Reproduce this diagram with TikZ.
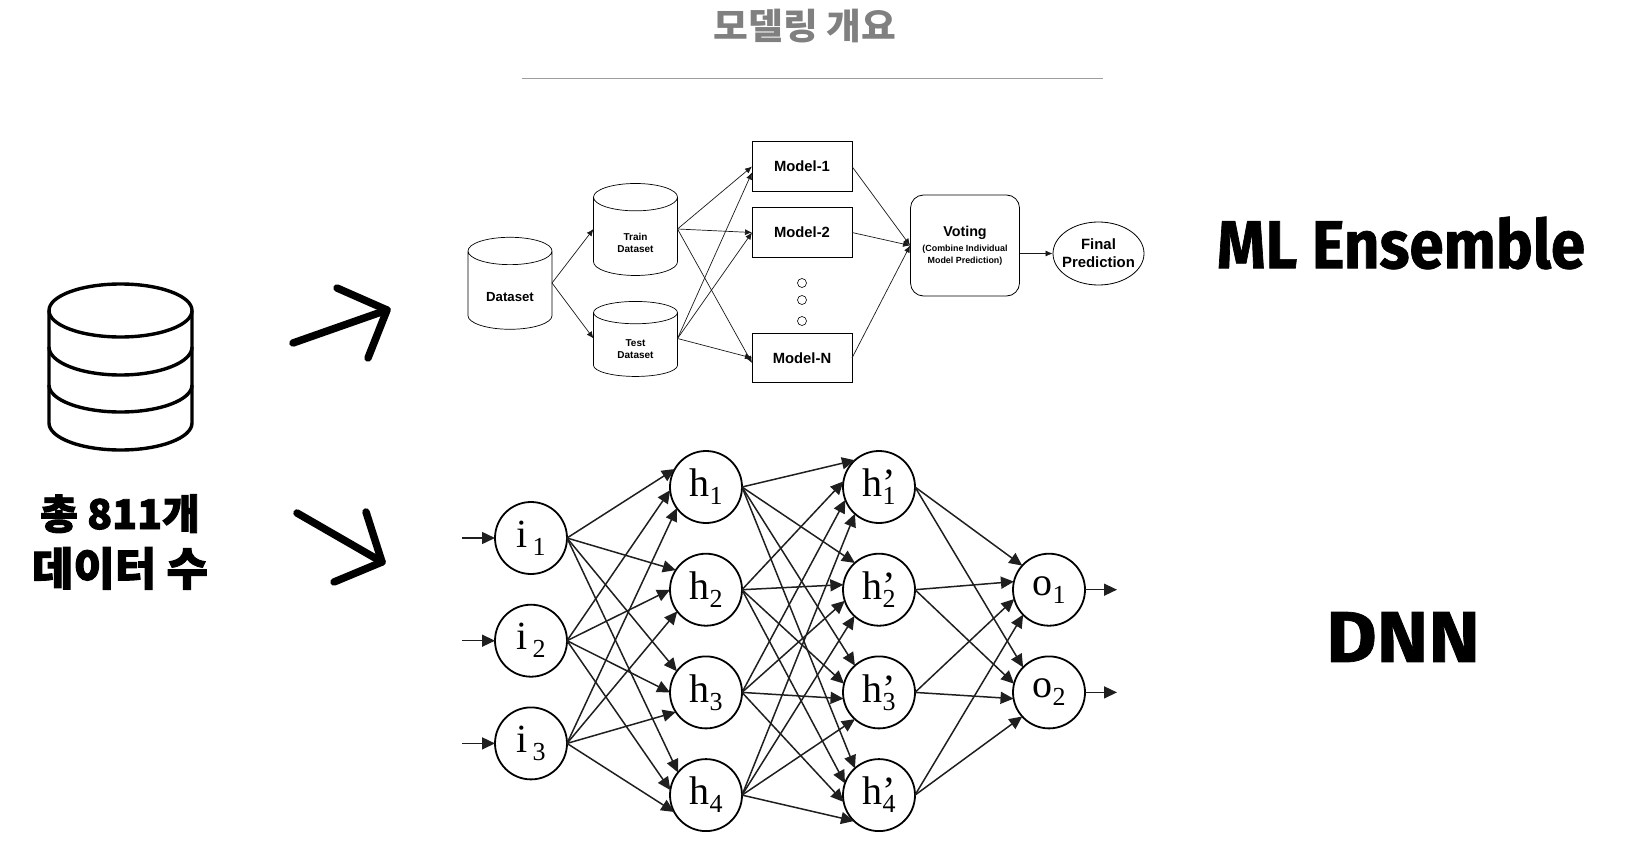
\documentclass[tikz,border=0pt]{standalone}
\usepackage{fontspec}
\usepackage{xcolor}
\usepackage{tikz}
\usetikzlibrary{arrows.meta, positioning, shapes.geometric}
\setmainfont{Liberation Sans}
\newfontfamily\serifpart{Liberation Serif}
\newfontfamily\headfont[FakeStretch=0.91, FakeBold=1]{Fira Sans}
\newfontfamily\dnnfont[FakeStretch=1.08, FakeBold=1]{Fira Sans}
\newfontfamily\korfont[FakeBold=2.2]{Noto Sans CJK KR}
\newfontfamily\titlefont[FakeStretch=1.05]{Noto Sans CJK KR}
\newcommand{\fsz}[1]{\fontsize{#1}{1.2\dimexpr #1pt\relax}\selectfont}
\newcommand{\sublab}[2]{#1\raisebox{-8pt}{\fsz{26}#2}}
\newcommand{\gaplab}[2]{#1\hspace{5pt}\raisebox{-8pt}{\fsz{26}#2}}
\newcommand{\primelab}[2]{h\rlap{’}\raisebox{-8pt}{\fsz{26}#2}}
\newcommand{\holder}{\phantom{\rule{36pt}{24pt}}}

\begin{document}
\begin{tikzpicture}[
  x=1pt, y=1pt,
  node distance=30.7pt and 101pt,
  box/.style={draw, line width=0.9pt, outer sep=0pt, minimum width=100pt, minimum height=49.5pt, inner sep=0pt, align=center, font=\fsz{14.8}\bfseries},
  store/.style={draw, line width=0.7pt, outer sep=0pt, shape=cylinder, shape border rotate=90, shape aspect=0.76, minimum width=84pt, inner sep=0pt},
  storetext/.style={align=center, font=\fsz{10}\bfseries},
  dot/.style={draw, line width=0.6pt, circle, minimum size=9pt, inner sep=0pt},
  neuron/.style={draw, line width=1.8pt, outer sep=0pt, circle, minimum size=72pt, inner sep=0pt, font=\serifpart\fsz{40}},
  arrow/.style={-{Latex[length=7pt, width=6pt]}, line width=0.7pt, black!90},
  nnarrow/.style={-{Triangle[length=13pt, width=12pt]}, line width=1.5pt, black!88},
  bigarrow/.style={line width=7.5pt, line cap=round, line join=round}
]
\useasboundingbox (0,0) rectangle (1627,-845);

% Title
\node[text=gray, font=\titlefont\bfseries\fsz{36}] (title) at (805,-26) {모델링 개요};
\coordinate (ruleL) at (522,-78.5);
\coordinate (ruleR) at (1103,-78.5);
\draw[line width=1.3pt, black!38] (ruleL) -- (ruleR);

% Data icon
\draw[line width=3.4pt] (120.5,-310.5) ellipse [x radius=71.5, y radius=26.5];
\draw[line width=3.4pt] (49,-310.5) -- (49,-423) arc[start angle=180, end angle=360, x radius=71.5, y radius=27] -- (192,-310.5);
\draw[line width=3.4pt] (49,-347) arc[start angle=180, end angle=360, x radius=71.5, y radius=28];
\draw[line width=3.4pt] (49,-385) arc[start angle=180, end angle=360, x radius=71.5, y radius=27];
\node[align=center, font=\korfont\bfseries\fsz{41}] (count) at (120,-542) {총 811개\\[7pt]{\fsz{45}데이터 수}};

% Big arrows
\coordinate (upS) at (293,-343);
\coordinate (upT) at (387,-310);
\coordinate (upA) at (337,-288);
\coordinate (upB) at (368,-358);
\coordinate (dnS) at (297,-513);
\coordinate (dnT) at (382,-562);
\coordinate (dnA) at (366,-512);
\coordinate (dnB) at (334,-582);
\draw[bigarrow] (upS) -- (upT);
\draw[bigarrow] (upA) -- (upT) -- (upB);
\draw[bigarrow] (dnS) -- (dnT);
\draw[bigarrow] (dnA) -- (dnT) -- (dnB);

% ML nodes
\node[store, minimum height=92pt] (data) at (510,-290.3) {\holder};
\node[store, minimum height=92pt] (train) at (635.5,-236.5) {\holder};
\node[store, minimum height=75pt, shape aspect=0.62] (test) at (635.5,-344.7) {\holder};
\node[font=\fsz{13.2}\bfseries] (dataT) at ([yshift=-7pt]data.center) {Dataset};
\node[storetext] (trainT) at ([yshift=-6pt]train.center) {Train\\Dataset};
\node[storetext] (testT) at ([yshift=-4.3pt]test.center) {Test\\Dataset};
\coordinate (dataE) at ([yshift=7.3pt]data.east);
\coordinate (trainW) at ([yshift=7.5pt]train.west);
\coordinate (trainE) at ([yshift=7.5pt]train.east);
\coordinate (testW) at ([yshift=6.2pt]test.west);
\coordinate (testE) at ([yshift=6.2pt]test.east);
\node[box] (m1) at (802,-166.5) {Model-1};
\node[box, below=16.5pt of m1] (m2) {Model-2};
\node[box] (mN) at (802,-358) {Model-N};
\node[dot] (d1) at (802,-283) {};
\node[dot] (d2) at (802,-300) {};
\node[dot] (d3) at (802,-321) {};
\node[draw, line width=0.8pt, rounded corners=13pt, minimum width=109pt, minimum height=101pt, inner sep=0pt, align=center] (vote) at (965,-245.5)
  {{\fsz{14.3}\bfseries Voting}\\[2.5pt]{\fsz{8.9}\bfseries (Combine Individual}\\[0pt]{\fsz{8.9}\bfseries Model Prediction)}};
\node[draw, line width=0.8pt, ellipse, minimum width=91pt, minimum height=63pt, inner xsep=-8pt, inner ysep=0pt, align=center, font=\fsz{14.9}\bfseries] (final) at (1098.5,-253.5) {Final\\Prediction};
\node[font=\headfont\bfseries\fsz{68}] (ens) at (1401,-243) {ML Ensemble};

% ML pointers
\draw[arrow] (dataE) -- (trainW);
\draw[arrow] (dataE) -- (testW);
\draw[arrow] (trainE) -- (m1.west);
\draw[arrow] (trainE) -- (m2.west);
\draw[arrow] (trainE) -- ([yshift=-5pt]mN.west);
\draw[arrow] (testE) -- ([yshift=-6pt]m1.west);
\draw[arrow] (testE) -- (m2.west);
\draw[arrow] (testE) -- (mN.west);
\draw[arrow] (m1.east) -- (vote.west);
\draw[arrow] (m2.east) -- (vote.west);
\draw[arrow] (mN.east) -- (vote.west);
\draw[arrow] (vote.east |- final) -- (final.west);

% DNN nodes
\node[neuron] (i1) at (531,-538) {\gaplab{i}{1}};
\node[neuron, below=of i1] (i2) {\gaplab{i}{2}};
\node[neuron, below=of i2] (i3) {\gaplab{i}{3}};
\node[neuron] (h1) at (706,-487) {\sublab{h}{1}};
\node[neuron, below=of h1] (h2) {\sublab{h}{2}};
\node[neuron, below=of h2] (h3) {\sublab{h}{3}};
\node[neuron, below=of h3] (h4) {\sublab{h}{4}};
\node[neuron, right=of h1] (p1) {\primelab{h}{1}};
\node[neuron, right=of h2] (p2) {\primelab{h}{2}};
\node[neuron, right=of h3] (p3) {\primelab{h}{3}};
\node[neuron, right=of h4] (p4) {\primelab{h}{4}};
\node[neuron, right=98pt of p2] (o1) {\sublab{o}{1}};
\node[neuron, right=98pt of p3] (o2) {\sublab{o}{2}};
\node[font=\dnnfont\bfseries\fsz{72}] (dnn) at (1403,-637) {DNN};
\coordinate[left=33pt of i1] (in1);
\coordinate[left=33pt of i2] (in2);
\coordinate[left=33pt of i3] (in3);
\coordinate[right=32pt of o1] (out1);
\coordinate[right=32pt of o2] (out2);

% DNN pointers
\draw[nnarrow] (in1) -- (i1);
\draw[nnarrow] (in2) -- (i2);
\draw[nnarrow] (in3) -- (i3);
\draw[nnarrow] (i1.east) -- (h1.150);
\draw[nnarrow] (i1.east) -- (h2.147);
\draw[nnarrow] (i1.east) -- (h3.144);
\draw[nnarrow] (i1.east) -- (h4.141);
\draw[nnarrow] (i2.east) -- (h1.185);
\draw[nnarrow] (i2.east) -- (h2.180);
\draw[nnarrow] (i2.east) -- (h3.180);
\draw[nnarrow] (i2.east) -- (h4.172);
\draw[nnarrow] (i3.east) -- (h1.216);
\draw[nnarrow] (i3.east) -- (h2.217);
\draw[nnarrow] (i3.east) -- (h3.213);
\draw[nnarrow] (i3.east) -- (h4.208);
\draw[nnarrow] (h1.east) -- (p1.132);
\draw[nnarrow] (h1.east) -- (p2.132);
\draw[nnarrow] (h1.east) -- (p3.132);
\draw[nnarrow] (h1.east) -- (p4.132);
\draw[nnarrow] (h2.east) -- (p1.171);
\draw[nnarrow] (h2.east) -- (p2.172);
\draw[nnarrow] (h2.east) -- (p3.166);
\draw[nnarrow] (h2.east) -- (p4.161);
\draw[nnarrow] (h3.east) -- (p1.201);
\draw[nnarrow] (h3.east) -- (p2.198);
\draw[nnarrow] (h3.east) -- (p3.190);
\draw[nnarrow] (h3.east) -- (p4.191);
\draw[nnarrow] (h4.east) -- (p1.228);
\draw[nnarrow] (h4.east) -- (p2.227);
\draw[nnarrow] (h4.east) -- (p3.228);
\draw[nnarrow] (h4.east) -- (p4.226);
\draw[nnarrow] (p1.east) -- (o1.138);
\draw[nnarrow] (p1.east) -- (o2.136);
\draw[nnarrow] (p2.east) -- (o1.167);
\draw[nnarrow] (p2.east) -- (o2.166);
\draw[nnarrow] (p3.east) -- (o1.195);
\draw[nnarrow] (p3.east) -- (o2.190);
\draw[nnarrow] (p4.east) -- (o1.224);
\draw[nnarrow] (p4.east) -- (o2.222);
\draw[nnarrow] (o1) -- (out1);
\draw[nnarrow] (o2) -- (out2);
\end{tikzpicture}
\end{document}
